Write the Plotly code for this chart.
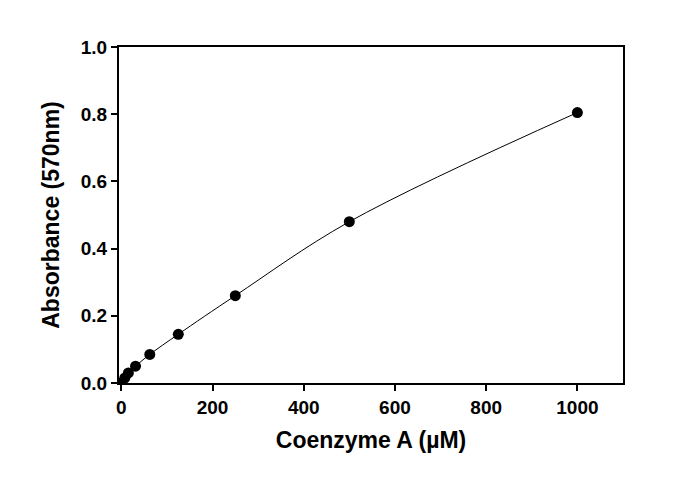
import plotly.graph_objects as go

conc = [0, 7.8, 15.6, 31.25, 62.5, 125, 250, 500, 1000]
absorb = [0.0, 0.015, 0.03, 0.05, 0.085, 0.145, 0.26, 0.48, 0.805]
xticks = [0, 200, 400, 600, 800, 1000]
yticks = [0.0, 0.2, 0.4, 0.6, 0.8, 1.0]

fig = go.Figure()
fig.add_trace(go.Scatter(x=conc, y=absorb, mode="lines", line=dict(color="black", width=1, shape="spline")))
fig.add_trace(go.Scatter(x=conc, y=absorb, mode="markers", marker=dict(color="black", size=11)))

font = dict(family="Liberation Sans", size=19, color="black")
ax = dict(showline=True, linecolor="black", linewidth=2, mirror=True, ticks="outside",
          tickwidth=2, ticklen=6, tickcolor="black", showgrid=False, zeroline=False,
          tickfont=font)
fig.update_layout(
    width=700, height=495, showlegend=False, plot_bgcolor="white", paper_bgcolor="white",
    margin=dict(l=111, r=85, t=39, b=120),
    font=font,
    xaxis=dict(ax, range=[-5, 1100], tickvals=xticks, ticktext=[f"<b>{v}</b>" for v in xticks],
               title=dict(text="<b>Coenzyme A (µM)</b>", font=dict(family="Liberation Sans", size=23))),
    yaxis=dict(ax, range=[0, 1.0], tickvals=yticks, ticktext=[f"<b>{v:.1f}</b>" for v in yticks],
               title=dict(text="<b>Absorbance (570nm)</b>", font=dict(family="Liberation Sans", size=23))),
)
fig.write_html("out.html")
